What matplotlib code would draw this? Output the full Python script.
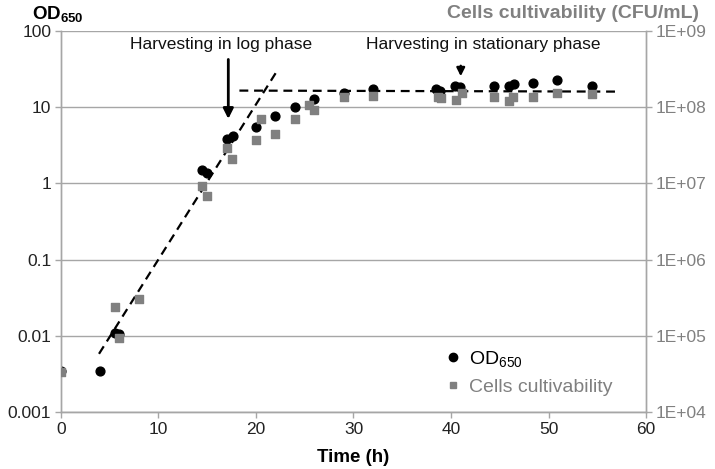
import numpy as np
import matplotlib
matplotlib.use("Agg")
import matplotlib.pyplot as plt
from matplotlib.lines import Line2D

plt.rcParams['font.family'] = ['Liberation Sans', 'DejaVu Sans']
plt.rcParams['mathtext.fontset'] = 'custom'
plt.rcParams['mathtext.rm'] = 'Liberation Sans'
plt.rcParams['mathtext.bf'] = 'Liberation Sans:bold'

# OD650 readings (left axis)
od_time = [0, 4, 5.5, 6, 14.5, 15, 17, 17.6, 20, 22, 24, 26, 29, 32,
           38.5, 38.9, 40.4, 40.9, 44.4, 46, 46.5, 48.4, 50.9, 54.5]
od_value = [0.0035, 0.0035, 0.011, 0.0107, 1.5, 1.36, 3.83, 4.19, 5.55, 7.74,
            10.2, 12.7, 15.2, 17.2, 17.2, 16.3, 19.2, 18.2, 19.2, 19.0, 20.1,
            20.6, 22.8, 19.0]

# cultivability (right axis, CFU/mL)
cfu_time = [0, 5.5, 6, 8, 14.5, 15, 17, 17.5, 20, 20.5, 22, 24, 25.4, 26, 29,
            32, 38.7, 39, 40.5, 41.1, 44.4, 46, 46.4, 48.4, 50.9, 54.5]
cfu_value = [3.35e4, 2.4e5, 9.3e4, 3.0e5, 9.3e6, 6.9e6, 2.94e7, 2.11e7, 3.67e7,
             7.0e7, 4.45e7, 7.06e7, 1.07e8, 9.2e7, 1.35e8, 1.42e8, 1.37e8,
             1.31e8, 1.24e8, 1.52e8, 1.37e8, 1.22e8, 1.35e8, 1.36e8, 1.52e8,
             1.49e8]

# trend lines (end points)
log_fit_t = [3.9, 22.05]
log_fit_od = [0.0058, 28.4]
stat_fit_t = [18.3, 57.2]
stat_fit_od = [16.5, 16.0]

left_ticks = [0.001, 0.01, 0.1, 1, 10, 100]
left_labels = ['0.001', '0.01', '0.1', '1', '10', '100']
right_ticks = [1e4, 1e5, 1e6, 1e7, 1e8, 1e9]
right_labels = ['1E+04', '1E+05', '1E+06', '1E+07', '1E+08', '1E+09']

gray = '#808080'
axis_gray = '#a6a6a6'

fig = plt.figure(figsize=(7.15, 4.69), dpi=100)
ax = fig.add_axes([0.0853, 0.1215, 0.8182, 0.8125])
ax2 = ax.twinx()

ax.set_yscale('log')
ax.set_xlim(0, 60)
ax.set_ylim(0.001, 100)
ax.set_yticks(left_ticks)
ax.set_yticklabels(left_labels)
ax.minorticks_off()
ax.set_xticks(range(0, 61, 10))
ax.grid(axis='y', color=axis_gray, lw=1.0)
ax.set_axisbelow(True)

ax2.set_yscale('log')
ax2.set_ylim(1e4, 1e9)
ax2.set_yticks(right_ticks)
ax2.set_yticklabels(right_labels)
ax2.minorticks_off()

for a in (ax, ax2):
    a.spines['top'].set_visible(False)
    for s in ('left', 'right', 'bottom'):
        a.spines[s].set_color(axis_gray)
        a.spines[s].set_linewidth(1.0)
    a.tick_params(length=4, width=1.0, color=axis_gray, labelsize=12.5)
ax.tick_params(axis='y', labelcolor='#222222', pad=3)
ax.tick_params(axis='x', labelcolor='#222222', pad=3)
ax2.tick_params(axis='y', labelcolor=gray, pad=3)

ax.plot(log_fit_t, log_fit_od, ls=(0, (4, 2.6)), color='black', lw=1.6, zorder=3)
ax.plot(stat_fit_t, stat_fit_od, ls=(0, (4, 2.6)), color='black', lw=1.6, zorder=3)

ax2.scatter(cfu_time, cfu_value, marker='s', s=30, color=gray, zorder=4)
ax.scatter(od_time, od_value, marker='o', s=40, color='black', zorder=2)
# squares drawn over the circles, as in the original
ax2.set_zorder(ax.get_zorder() + 1)
ax2.patch.set_visible(False)

ax.annotate('', xy=(17.16, 6.45), xytext=(17.16, 46),
            arrowprops=dict(arrowstyle='-|>', color='black', lw=2.0,
                            mutation_scale=15))
ax.annotate('', xy=(41.0, 23.4), xytext=(41.0, 38),
            arrowprops=dict(arrowstyle='-|>', color='black', lw=1.7,
                            mutation_scale=12))
ax.text(16.4, 67, 'Harvesting in log phase', ha='center', va='center',
        fontsize=12.5, color='#111111')
ax.text(43.3, 67, 'Harvesting in stationary phase', ha='center', va='center',
        fontsize=12.5, color='#111111')

fig.text(0.045, 0.970, r'OD$\mathregular{_{650}}$', fontsize=13.5,
         fontweight='bold', ha='left', va='center')
fig.text(0.977, 0.972, 'Cells cultivability (CFU/mL)', fontsize=14,
         fontweight='bold', color=gray, ha='right', va='center')
ax.set_xlabel('Time (h)', fontsize=13.5, fontweight='bold', labelpad=9)

handles = [Line2D([], [], marker='o', ls='none', color='black', markersize=6),
           Line2D([], [], marker='s', ls='none', color=gray, markersize=5)]
leg = ax2.legend(handles, [r'OD$\mathregular{_{650}}$', 'Cells cultivability'],
                 loc='upper left', bbox_to_anchor=(0.641, 0.185), frameon=False,
                 fontsize=14, handletextpad=0.3, labelspacing=0.45,
                 handlelength=1.0, borderaxespad=0)
leg.get_texts()[1].set_color(gray)

fig.savefig('out.png', dpi=100)
